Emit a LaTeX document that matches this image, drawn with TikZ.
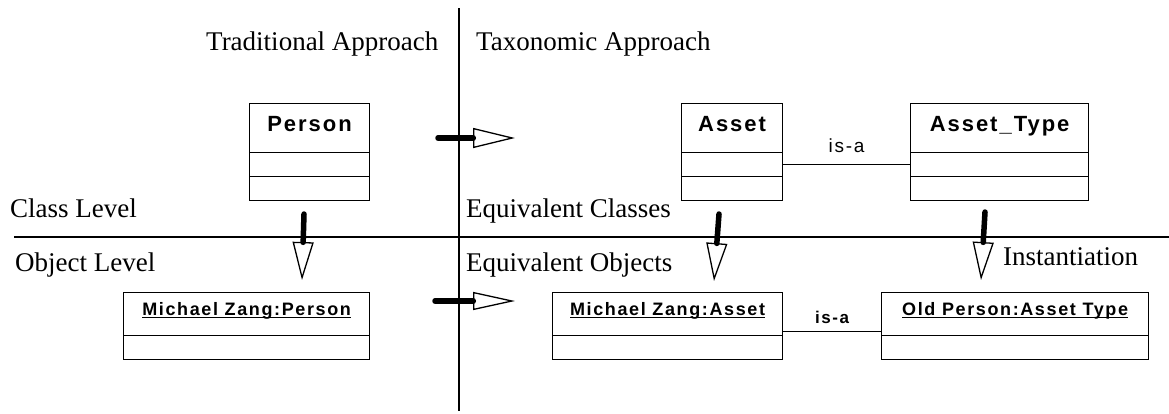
\documentclass[tikz,border=0pt]{standalone}
\usepackage{fontspec}
\setmainfont{Liberation Serif}
\newfontfamily\boxfont{Liberation Sans}[LetterSpace=9]
\usetikzlibrary{arrows.meta}
\newcommand\myul[1]{\setbox0\hbox{#1}\rlap{\rule[-2.6pt]{\wd0}{1.5pt}}\box0}
\begin{document}
\begin{tikzpicture}[x=1pt,y=-1pt,
  cbox/.style={draw, line width=1.2pt, rectangle, inner sep=0pt, anchor=north west},
  chead/.style={cbox, font=\boxfont\bfseries\fontsize{22}{22}\selectfont, text height=16pt, text depth=9pt},
  ohead/.style={cbox, font=\boxfont\bfseries\fontsize{18}{18}\selectfont, text height=13pt, text depth=10pt},
  lbl/.style={inner sep=0pt, font=\fontsize{27}{30}\selectfont},
  rule/.style={line width=1.2pt},
  gen/.style={line width=5.5pt, line cap=round,
    -{Triangle[open, length=42pt, width=20pt, line width'=1.3pt]}},
  genv/.style={line width=5.5pt, line cap=round,
    -{Triangle[open, length=38pt, width=21pt, line width'=1.3pt]}},
  assoc/.style={line width=1.2pt}
]
\useasboundingbox (0,0) rectangle (1169,413);

% dividing lines
\coordinate (hl) at (14,237); \coordinate (hr) at (1169,237);
\coordinate (vt) at (459,8); \coordinate (vb) at (459,411);
\draw[rule] (hl) -- (hr);
\draw[rule] (vt) -- (vb);

% labels
\node[lbl, anchor=base west] (trad) at (206,50) {Traditional Approach};
\node[lbl, anchor=base west] (taxo) at (476,50) {Taxonomic Approach};
\node[lbl, anchor=base west] (clev) at (10,217) {Class Level};
\node[lbl, anchor=base west] (olev) at (15,271) {Object Level};
\node[lbl, anchor=base west] (eqc) at (466,217) {Equivalent Classes};
\node[lbl, anchor=base west] (eqo) at (466,271) {Equivalent Objects};
\node[lbl, anchor=base west] (inst) at (1003,265) {Instantiation};

% class boxes
\node[chead, minimum width=120pt, minimum height=49pt] (person) at (249,103) {Person};
\node[cbox, minimum width=120pt, minimum height=24pt] (personA) at (249,152) {};
\node[cbox, minimum width=120pt, minimum height=24pt] (personO) at (249,176) {};

\node[chead, minimum width=101pt, minimum height=49pt] (asset) at (681,103) {Asset};
\node[cbox, minimum width=101pt, minimum height=24pt] (assetA) at (681,152) {};
\node[cbox, minimum width=101pt, minimum height=24pt] (assetO) at (681,176) {};

\node[chead, minimum width=178pt, minimum height=49pt] (atype) at (910,103) {Asset\_Type};
\node[cbox, minimum width=178pt, minimum height=24pt] (atypeA) at (910,152) {};
\node[cbox, minimum width=178pt, minimum height=24pt] (atypeO) at (910,176) {};

% object boxes
\node[ohead, minimum width=246pt, minimum height=43pt] (mzp) at (123,292) {\myul{Michael Zang:Person}};
\node[cbox, minimum width=246pt, minimum height=24pt] (mzpA) at (123,335) {};

\node[ohead, minimum width=230pt, minimum height=43pt] (mza) at (552,292) {\myul{Michael Zang:Asset}};
\node[cbox, minimum width=230pt, minimum height=24pt] (mzaA) at (552,335) {};

\node[ohead, minimum width=267pt, minimum height=43pt] (opat) at (881,292) {\myul{Old Person:Asset Type}};
\node[cbox, minimum width=267pt, minimum height=24pt] (opatA) at (881,335) {};

% associations
\draw[assoc] (assetA.east) -- (atypeA.west)
  node[pos=0.5, anchor=base, yshift=12pt, inner sep=0pt,
       font=\boxfont\fontsize{19}{19}\selectfont] (isa1) {is-a};
\draw[assoc] ([yshift=5pt]mza.south east) -- ([yshift=5pt]opat.south west)
  node[pos=0.5, anchor=base, yshift=8pt, inner sep=0pt,
       font=\boxfont\bfseries\fontsize{17}{17}\selectfont] (isa2) {is-a};

% generalisation / instantiation arrows
\coordinate (g1s) at (438,138); \coordinate (g1e) at (515,138);
\draw[gen] (g1s) -- (g1e);
\coordinate (g2s) at (435,301); \coordinate (g2e) at (515,301);
\draw[gen, -{Triangle[open, length=42pt, width=18pt, line width'=1.3pt]}] (g2s) -- (g2e);
\coordinate (g3s) at (304,214); \coordinate (g3e) at (302,280);
\draw[genv] (g3s) -- (g3e);
\coordinate (g4s) at (719,214); \coordinate (g4e) at (714,281);
\draw[genv] (g4s) -- (g4e);
\coordinate (g5s) at (985,212); \coordinate (g5e) at (981,280);
\draw[genv] (g5s) -- (g5e);
\end{tikzpicture}
\end{document}
